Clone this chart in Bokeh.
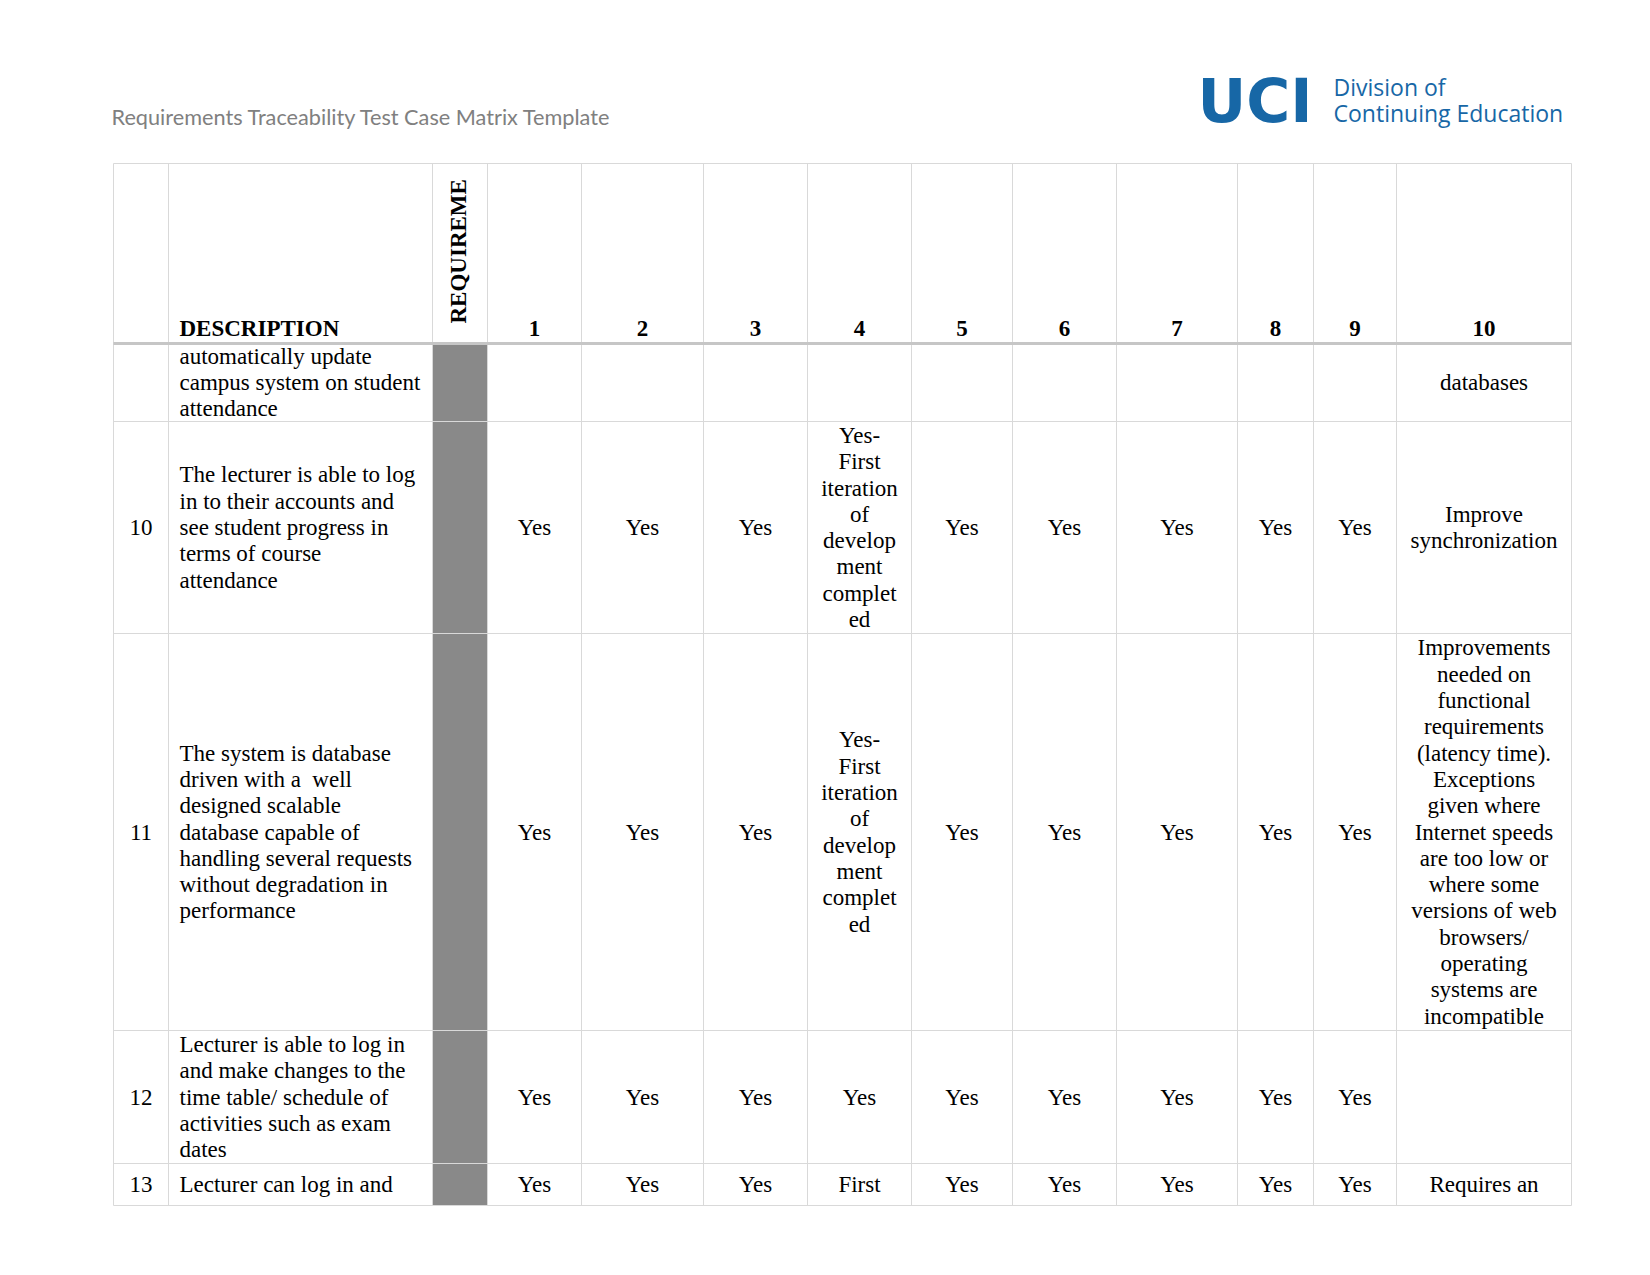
import numpy as np
from bokeh.plotting import figure
from bokeh.models import Range1d
from bokeh.embed import file_html
from bokeh.resources import INLINE
from bokeh.core.properties import value

# ---------------- data ----------------
title_text = "Requirements Traceability Test Case Matrix Template"
logo_mark = "UCI"
logo_lines = ["Division of", "Continuing Education"]

header_desc = "DESCRIPTION"
header_req = "REQUIREME"
test_case_labels = ["1", "2", "3", "4", "5", "6", "7", "8", "9", "10"]

req_ids = ["", "10", "11", "12", "13"]
descriptions = [
    "automatically update\ncampus system on student\nattendance",
    "The lecturer is able to log\nin to their accounts and\nsee student progress in\nterms of course\nattendance",
    "The system is database\ndriven with a  well\ndesigned scalable\ndatabase capable of\nhandling several requests\nwithout degradation in\nperformance",
    "Lecturer is able to log in\nand make changes to the\ntime table/ schedule of\nactivities such as exam\ndates",
    "Lecturer can log in and",
]
first_iter = "Yes-\nFirst\niteration\nof\ndevelop\nment\ncomplet\ned"
tc_1 = ["", "Yes", "Yes", "Yes", "Yes"]
tc_2 = ["", "Yes", "Yes", "Yes", "Yes"]
tc_3 = ["", "Yes", "Yes", "Yes", "Yes"]
tc_4 = ["", first_iter, first_iter, "Yes", "First"]
tc_5 = ["", "Yes", "Yes", "Yes", "Yes"]
tc_6 = ["", "Yes", "Yes", "Yes", "Yes"]
tc_7 = ["", "Yes", "Yes", "Yes", "Yes"]
tc_8 = ["", "Yes", "Yes", "Yes", "Yes"]
tc_9 = ["", "Yes", "Yes", "Yes", "Yes"]
tc_10 = [
    "databases",
    "Improve\nsynchronization",
    "Improvements\nneeded on\nfunctional\nrequirements\n(latency time).\nExceptions\ngiven where\nInternet speeds\nare too low or\nwhere some\nversions of web\nbrowsers/\noperating\nsystems are\nincompatible",
    "",
    "Requires an",
]
test_columns = [tc_1, tc_2, tc_3, tc_4, tc_5, tc_6, tc_7, tc_8, tc_9, tc_10]

# ---------------- layout ----------------
W, H = 1634, 1255
OX, OY = 0, 0
col_edges = [113, 168, 432, 487, 581, 703, 807, 911, 1012, 1116, 1237, 1313, 1396, 1571]
row_edges = [163, 343, 421, 633, 1030, 1163, 1205]
LINE_H = 26.3
SERIF = value("Liberation Serif")
FS = "23px"

p = figure(width=W, height=H, output_backend="svg", toolbar_location=None,
           x_range=Range1d(OX, OX + W), y_range=Range1d(OY + H, OY),
           x_axis_type=None, y_axis_type=None, min_border=0)
p.outline_line_color = None
p.xgrid.visible = False
p.ygrid.visible = False
p.background_fill_color = "white"
p.border_fill_color = "white"

# gray requirement column
req_l, req_r = col_edges[2], col_edges[3]
nb = len(row_edges) - 2
p.quad(left=[req_l] * nb, right=[req_r] * nb,
       top=row_edges[1:-1], bottom=row_edges[2:], fill_color="#898989", line_color=None)

# grid lines
GRID = "#d9d9d9"
p.segment(x0=[col_edges[0]] * len(row_edges), y0=row_edges,
          x1=[col_edges[-1]] * len(row_edges), y1=row_edges, line_color=GRID, line_width=1)
p.segment(x0=col_edges, y0=[row_edges[0]] * len(col_edges), x1=col_edges,
          y1=[row_edges[-1]] * len(col_edges), line_color=GRID, line_width=1)
p.segment(x0=[col_edges[0]], y0=[row_edges[1]], x1=[col_edges[-1]], y1=[row_edges[1]],
          line_color="#c6c6c6", line_width=3)

# text helpers
acc = {"left": {"x": [], "y": [], "t": []}, "center": {"x": [], "y": [], "t": []}}

def cell_text(txt, x, yc, align):
    if not txt:
        return
    lines = txt.replace("  ", " \u00a0").split("\n")
    n = len(lines)
    for i, ln in enumerate(lines):
        acc[align]["x"].append(x)
        acc[align]["y"].append(yc + (i - (n - 1) / 2) * LINE_H)
        acc[align]["t"].append(ln)

for r in range(len(req_ids)):
    y_top, y_bot = row_edges[r + 1], row_edges[r + 2]
    yc = (y_top + y_bot) / 2
    cell_text(req_ids[r], (col_edges[0] + col_edges[1]) / 2, yc, "center")
    cell_text(descriptions[r], col_edges[1] + 11, yc, "left")
    for k, col in enumerate(test_columns):
        cx = (col_edges[3 + k] + col_edges[4 + k]) / 2
        cell_text(col[r], cx, yc, "center")

for align in ("left", "center"):
    d = acc[align]
    p.text(x=d["x"], y=d["y"], text=d["t"], text_align=align, text_baseline="middle",
           text_font=SERIF, text_font_size=FS, text_color="#000000")

# header
HY = 328
p.text(x=[col_edges[1] + 11], y=[HY], text=[header_desc], text_align="left",
       text_baseline="middle", text_font=SERIF, text_font_size=FS,
       text_font_style="bold", text_color="#000000")
hx = [(col_edges[3 + k] + col_edges[4 + k]) / 2 for k in range(len(test_case_labels))]
p.text(x=hx, y=[HY] * len(hx), text=test_case_labels, text_align="center",
       text_baseline="middle", text_font=SERIF, text_font_size=FS,
       text_font_style="bold", text_color="#000000")
p.text(x=[(req_l + req_r) / 2 - 1.5], y=[323], text=[header_req], angle=np.pi / 2,
       text_align="left", text_baseline="middle", text_font=SERIF, text_font_size=FS,
       text_font_style="bold", text_color="#000000")

# page title and logo
p.text(x=[111], y=[116], text=[title_text], text_align="left", text_baseline="middle",
       text_font=value("Lato"), text_font_size="21.7px", text_color="#808080")
BLUE = "#1767a6"
p.text(x=[1197], y=[100], text=[logo_mark], text_align="left", text_baseline="middle",
       text_font=value("DejaVu Sans"), text_font_size="60px", text_font_style="bold",
       text_color=BLUE)
p.text(x=[1333, 1333], y=[86, 112], text=logo_lines, text_align="left",
       text_baseline="middle", text_font=value("Open Sans"), text_font_size="23px",
       text_color=BLUE)

open("out.html", "w").write(file_html(p, INLINE))
